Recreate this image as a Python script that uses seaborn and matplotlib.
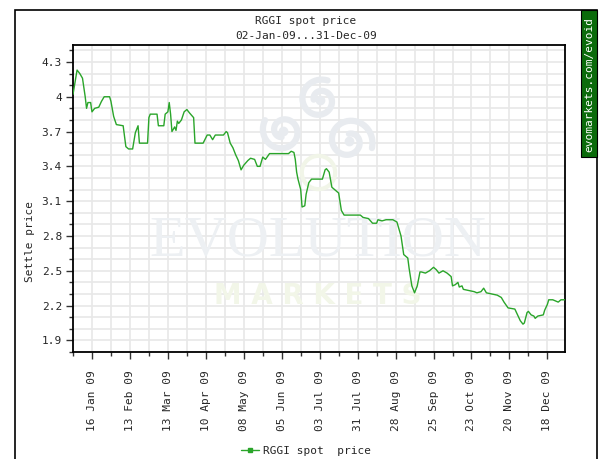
import numpy as np
import pandas as pd
import seaborn as sns
import matplotlib.pyplot as plt
import matplotlib.dates as mdates
from matplotlib.patches import Rectangle
from matplotlib.lines import Line2D

# --- data ---
dates = [
    "2009-01-02", "2009-01-05", "2009-01-07", "2009-01-09", "2009-01-10", "2009-01-11",
    "2009-01-12", "2009-01-13", "2009-01-15", "2009-01-16", "2009-01-18", "2009-01-21",
    "2009-01-23", "2009-01-25", "2009-01-29", "2009-01-30", "2009-02-01", "2009-02-03",
    "2009-02-08", "2009-02-10", "2009-02-12", "2009-02-15", "2009-02-17", "2009-02-18",
    "2009-02-19", "2009-02-20", "2009-02-26", "2009-02-27", "2009-02-28", "2009-03-05",
    "2009-03-06", "2009-03-10", "2009-03-11", "2009-03-13", "2009-03-14", "2009-03-15",
    "2009-03-16", "2009-03-18", "2009-03-19", "2009-03-20", "2009-03-21", "2009-03-23",
    "2009-03-25", "2009-03-27", "2009-03-29", "2009-04-01", "2009-04-02", "2009-04-08",
    "2009-04-11", "2009-04-13", "2009-04-15", "2009-04-17", "2009-04-23", "2009-04-25",
    "2009-04-26", "2009-04-28", "2009-04-30", "2009-05-02", "2009-05-04", "2009-05-06",
    "2009-05-08", "2009-05-11", "2009-05-13", "2009-05-16", "2009-05-18", "2009-05-20",
    "2009-05-22", "2009-05-24", "2009-05-27", "2009-06-10", "2009-06-12", "2009-06-14",
    "2009-06-15", "2009-06-16", "2009-06-17", "2009-06-19", "2009-06-20", "2009-06-22",
    "2009-06-23", "2009-06-25", "2009-06-27", "2009-07-05", "2009-07-07", "2009-07-08",
    "2009-07-10", "2009-07-12", "2009-07-14", "2009-07-17", "2009-07-19", "2009-07-21",
    "2009-08-02", "2009-08-04", "2009-08-08", "2009-08-11", "2009-08-14", "2009-08-15",
    "2009-08-18", "2009-08-21", "2009-08-26", "2009-08-29", "2009-09-01", "2009-09-03",
    "2009-09-06", "2009-09-07", "2009-09-09", "2009-09-11", "2009-09-13", "2009-09-15",
    "2009-09-16", "2009-09-19", "2009-09-22", "2009-09-25", "2009-09-27", "2009-09-29",
    "2009-10-02", "2009-10-05", "2009-10-08", "2009-10-09", "2009-10-11", "2009-10-13",
    "2009-10-14", "2009-10-16", "2009-10-17", "2009-10-21", "2009-10-25", "2009-10-27",
    "2009-10-30", "2009-11-01", "2009-11-03", "2009-11-07", "2009-11-11", "2009-11-14",
    "2009-11-16", "2009-11-19", "2009-11-24", "2009-11-26", "2009-11-28", "2009-11-30",
    "2009-12-01", "2009-12-03", "2009-12-04", "2009-12-06", "2009-12-08", "2009-12-09",
    "2009-12-11", "2009-12-15", "2009-12-16", "2009-12-18", "2009-12-19", "2009-12-22",
    "2009-12-26", "2009-12-28", "2009-12-31",
]
prices = [
    4.02, 4.23, 4.20, 4.16, 4.08, 4.00,
    3.90, 3.95, 3.95, 3.87, 3.90, 3.91,
    3.96, 4.00, 4.00, 3.96, 3.83, 3.76,
    3.75, 3.57, 3.55, 3.55, 3.69, 3.72,
    3.75, 3.60, 3.60, 3.82, 3.85, 3.85,
    3.75, 3.75, 3.85, 3.87, 3.95, 3.85,
    3.70, 3.74, 3.71, 3.79, 3.77, 3.80,
    3.87, 3.89, 3.86, 3.82, 3.60, 3.60,
    3.67, 3.67, 3.63, 3.67, 3.67, 3.70,
    3.69, 3.60, 3.56, 3.50, 3.45, 3.37,
    3.41, 3.45, 3.47, 3.46, 3.40, 3.40,
    3.48, 3.46, 3.51, 3.51, 3.53, 3.52,
    3.46, 3.35, 3.29, 3.20, 3.05, 3.06,
    3.16, 3.26, 3.29, 3.29, 3.37, 3.38,
    3.35, 3.22, 3.20, 3.17, 3.02, 2.98,
    2.98, 2.96, 2.95, 2.91, 2.91, 2.94,
    2.93, 2.94, 2.94, 2.92, 2.80, 2.64,
    2.61, 2.52, 2.37, 2.31, 2.37, 2.49,
    2.49, 2.48, 2.50, 2.53, 2.51, 2.48,
    2.50, 2.48, 2.45, 2.37, 2.38, 2.40,
    2.36, 2.37, 2.34, 2.33, 2.32, 2.31,
    2.32, 2.35, 2.31, 2.30, 2.29, 2.27,
    2.23, 2.18, 2.17, 2.12, 2.07, 2.04,
    2.05, 2.14, 2.15, 2.12, 2.11, 2.09,
    2.11, 2.12, 2.16, 2.21, 2.25, 2.25,
    2.23, 2.25, 2.25,
]
y_ticks = [1.9, 2.2, 2.5, 2.8, 3.1, 3.4, 3.7, 4.0, 4.3]
y_tick_labels = ["1.9", "2.2", "2.5", "2.8", "3.1", "3.4", "3.7", "4", "4.3"]

df = pd.DataFrame({"date": pd.to_datetime(dates), "price": prices})

sns.set_style("white")
plt.rcParams['font.family'] = ['DejaVu Sans Mono', 'DejaVu Sans']
mono = 8

W, H = 602, 459
AX_L, AX_T, AX_W, AX_H = 73, 45, 492, 307
fig = plt.figure(figsize=(W / 100, H / 100), dpi=100)
ax = fig.add_axes([AX_L / W, 1 - (AX_T + AX_H) / H, AX_W / W, AX_H / H])

green = "#2aa52a"
sns.lineplot(x="date", y="price", data=df, color=green, linewidth=1.0, ax=ax, legend=False, zorder=3)

# axes limits / ticks
ax.set_xlim(pd.Timestamp("2009-01-02"), pd.Timestamp("2009-12-31"))
ax.set_ylim(1.814, 4.446)
ax.set_yticks(y_ticks)
ax.set_yticklabels(y_tick_labels)
ax.set_yticks([1.9 + 0.1 * i for i in range(-1, 26)], minor=True)

major_x = pd.date_range("2009-01-16", periods=13, freq="28D")
minor_x = pd.date_range("2009-01-02", "2009-12-31", freq="14D")
ax.set_xticks(major_x)
ax.set_xticks(minor_x, minor=True)
ax.xaxis.set_major_formatter(mdates.DateFormatter("%d %b %y"))
plt.setp(ax.get_xticklabels(), rotation=90, fontsize=mono)
plt.setp(ax.get_yticklabels(), fontsize=mono)

ax.tick_params(which="major", direction="out", length=5, width=1, color="#333333", pad=3)
ax.tick_params(which="minor", direction="out", length=3, width=1, color="#333333")
ax.tick_params(axis="x", which="major", pad=8)
ax.tick_params(left=True, bottom=True, which="both")

ax.grid(which="both", color="#e8e8e8", linewidth=1.2)
ax.set_axisbelow(True)
for s in ax.spines.values():
    s.set_color("black")
    s.set_linewidth(1.3)

ax.set_xlabel("")
ax.set_ylabel("")
fig.text(30 / W, 1 - 241 / H, "Settle price", rotation=90, ha="center", va="center", fontsize=mono)

# titles
fig.text(306 / W, 1 - 21 / H, "RGGI spot price", ha="center", va="center", fontsize=mono)
fig.text(306 / W, 1 - 36 / H, "02-Jan-09...31-Dec-09", ha="center", va="center", fontsize=mono)


# watermark (pixel positions -> axes fractions)
def px(x, y):
    return (x - AX_L) / AX_W, 1 - (y - AX_T) / AX_H


ax.text(*px(318, 242), "EVOLUTION", transform=ax.transAxes, ha="center", va="center",
        fontsize=42, family="Liberation Serif", color="#edf0f3", zorder=1)
ax.text(*px(318, 296), "M A R K E T S", transform=ax.transAxes, ha="center", va="center",
        fontsize=20, family="DejaVu Sans", weight="bold", color="#f2f6e8", zorder=1)

theta = np.linspace(0, 2.6 * np.pi, 200)
swirl = "#e8ebef"
for cx, cy, rad, start in [(320, 100, 21, 1.2), (283, 131, 21, 2.6), (349, 141, 24, -0.3)]:
    r = rad * (1 - 0.7 * theta / theta[-1])
    xs = cx + r * np.cos(theta + start)
    ys = cy - r * np.sin(theta + start)
    pts = [px(a, b) for a, b in zip(xs, ys)]
    ax.plot([p[0] for p in pts], [p[1] for p in pts], transform=ax.transAxes,
            color=swirl, linewidth=4.5, solid_capstyle="round", zorder=1)
    ax.plot(*px(cx, cy), transform=ax.transAxes, marker="o", markersize=6,
            color=swirl, zorder=1)
ax.plot(*px(318, 172), transform=ax.transAxes, marker="o", markersize=24, markerfacecolor="none",
        markeredgecolor="#f1f5e8", markeredgewidth=3, zorder=1)

# outer frame and side banner
fig.patches.append(Rectangle((15 / W, -0.1), 582 / W, 1.1 - 10 / H, transform=fig.transFigure,
                             fill=False, edgecolor="black", linewidth=1.2))
fig.patches.append(Rectangle((581 / W, 1 - 157 / H), 16 / W, 147 / H, transform=fig.transFigure,
                             facecolor="#0b6b0b", edgecolor="black", linewidth=0.8))
fig.text(589 / W, 1 - 84 / H, "evomarkets.com/evoid", rotation=90, ha="center", va="center",
         fontsize=8, color="white")

# legend
handle = Line2D([], [], color=green, marker="s", markersize=2.5, linewidth=1.0)
fig.legend([handle], ["RGGI spot  price"], loc="center", bbox_to_anchor=(306 / W, 1 - 451 / H),
           frameon=False, handlelength=1.6, handletextpad=0.4, prop={"size": mono})

fig.savefig("out.png", dpi=100)
